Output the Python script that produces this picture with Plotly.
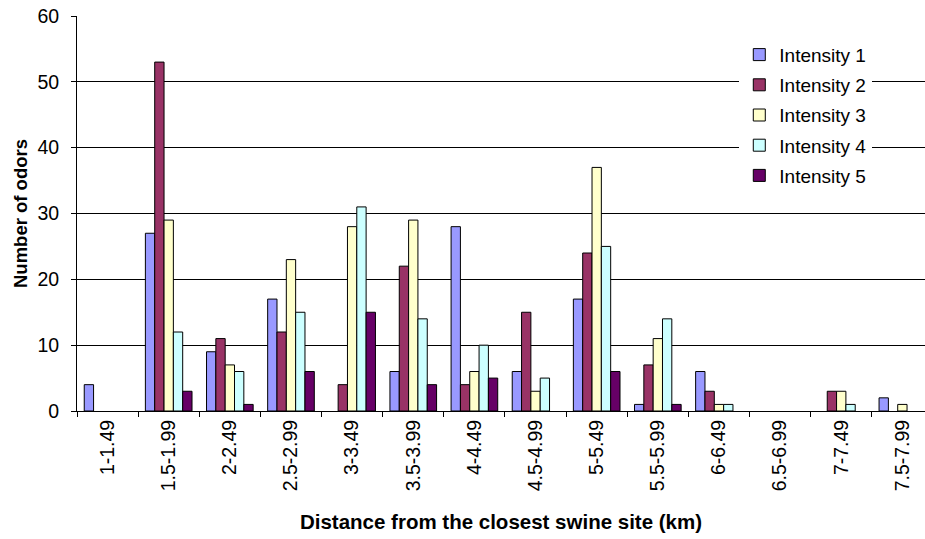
import plotly.graph_objects as go

# Distance bins from the closest swine site (km)
distance_bins = ["1-1.49", "1.5-1.99", "2-2.49", "2.5-2.99", "3-3.49", "3.5-3.99",
                 "4-4.49", "4.5-4.99", "5-5.49", "5.5-5.99", "6-6.49", "6.5-6.99",
                 "7-7.49", "7.5-7.99"]

# Number of odors reported at each intensity level
intensity_1 = [4, 27, 9, 17, 0, 6, 28, 6, 17, 1, 6, 0, 0, 2]
intensity_2 = [0, 53, 11, 12, 4, 22, 4, 15, 24, 7, 3, 0, 3, 0]
intensity_3 = [0, 29, 7, 23, 28, 29, 6, 3, 37, 11, 1, 0, 3, 1]
intensity_4 = [0, 12, 6, 15, 31, 14, 10, 5, 25, 14, 1, 0, 1, 0]
intensity_5 = [0, 3, 1, 6, 15, 4, 5, 0, 6, 1, 0, 0, 0, 0]

series_names = ["Intensity 1", "Intensity 2", "Intensity 3", "Intensity 4", "Intensity 5"]
series_colors = ["#9999FF", "#993366", "#FFFFCC", "#CCFFFF", "#660066"]
series_values = [intensity_1, intensity_2, intensity_3, intensity_4, intensity_5]

FONT = "Liberation Sans, Arial, sans-serif"

fig = go.Figure()
for name, color, vals in zip(series_names, series_colors, series_values):
    fig.add_trace(go.Bar(
        x=distance_bins,
        # empty bins draw no bar at all
        y=[v if v else None for v in vals],
        name=name,
        legendgroup=name,
        marker=dict(color=color, line=dict(color="black", width=1)),
    ))

fig.update_layout(
    width=925, height=539,
    margin=dict(l=77, r=0, t=16, b=128),
    paper_bgcolor="white", plot_bgcolor="white",
    barmode="group", bargap=0.237, bargroupgap=0,
    font=dict(family=FONT, size=19, color="black"),
    showlegend=True,
    legend=dict(
        x=0.781, y=0.95, xanchor="left", yanchor="top",
        bgcolor="white", borderwidth=0,
        font=dict(family=FONT, size=19, color="black"),
        tracegroupgap=2.5, itemwidth=30,
    ),
    xaxis=dict(
        type="category",
        range=[-0.5, 13.37],
        showline=True, linecolor="black", linewidth=1,
        ticks="outside", tickson="boundaries", ticklen=5, tickcolor="black",
        tickangle=-90,
        tickfont=dict(family=FONT, size=19.5),
        showgrid=False,
        title=dict(text="<b>Distance from the closest swine site (km)</b>",
                   font=dict(family=FONT, size=20.5), standoff=24),
    ),
    yaxis=dict(
        range=[0, 60], dtick=10,
        showline=True, linecolor="black", linewidth=1,
        ticks="outside", ticklen=5, tickcolor="black",
        ticklabelstandoff=8,
        tickfont=dict(family=FONT, size=19.5),
        showgrid=True, gridcolor="black", gridwidth=1,
        zeroline=False,
        title=dict(text="<b>Number of odors</b>",
                   font=dict(family=FONT, size=18.5), standoff=4),
    ),
)

fig.write_html("out.html")
